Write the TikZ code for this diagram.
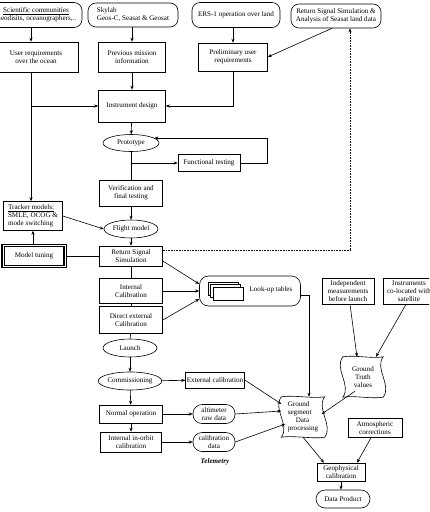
\documentclass[tikz,border=0pt]{standalone}
\usepackage{fontspec}
\setmainfont{Liberation Serif}
\usetikzlibrary{shapes.geometric,arrows.meta,calc}
\newcommand\wavyframe[1]{\draw[line width=0.6pt] (#1.north west) .. controls +(12,-2) and +(-12,2) .. (#1.north east) .. controls +(-9,12) and +(9,-12) .. (#1.south east) .. controls +(-12,2) and +(12,-2) .. (#1.south west) .. controls +(9,-12) and +(-9,12) .. (#1.north west);}
\begin{document}
\begin{tikzpicture}[x=1pt,y=-1pt,
  every node/.style={font=\fontsize{7.1}{8}\selectfont, inner sep=1pt},
  box/.style={draw, line width=0.6pt, rectangle, align=center},
  rbox/.style={draw, line width=0.6pt, rectangle, rounded corners=8pt, align=center},
  ell/.style={draw, line width=0.6pt, ellipse, align=center, inner sep=0pt},
  thickbox/.style={draw, line width=1.4pt, double=white, double distance=0.6pt, rectangle, align=center},
  wavy/.style={rectangle, align=center},
  arr/.style={line width=0.6pt, -{Stealth[length=4pt,width=3.2pt]}},
  ln/.style={line width=0.6pt}]
\useasboundingbox (0,0) rectangle (429,512);
\clip (0,0) rectangle (429,512);
% top row
\node[rbox, minimum width=92, minimum height=25] (sci) at (36,15) {\underline{Scientific communities}\\Geodisits, oceanographers,..};
\node[rbox, minimum width=90, minimum height=24, align=left] (sky) at (133,15) {Skylab\\Geos-C, Seasat \& Geosat};
\node[rbox, minimum width=88, minimum height=25] (ers) at (236,15) {ERS-1 operation over land};
\node[rbox, minimum width=90, minimum height=24] (rss) at (336,16) {Return Signal Simulation \&\\Analysis of Seasat land data};
% second row
\node[box, minimum width=84, minimum height=30] (ureq) at (36,57) {User requirements\\over the ocean};
\node[box, minimum width=67, minimum height=30] (prev) at (132,57) {Previous mission\\information};
\node[box, minimum width=69, minimum height=28] (prel) at (233,57) {Preliminary user\\requirements};
\node[box, minimum width=67, minimum height=32] (idesign) at (132,106) {Instrument design};
\node[ell, minimum width=56, minimum height=17] (proto) at (131,143) {Prototype};
\node[box, minimum width=62, minimum height=17] (func) at (209,163) {Functional testing};
\node[box, minimum width=63, minimum height=26] (verif) at (131,193) {Verification and\\final testing};
\node[box, minimum width=59, minimum height=29, align=left] (track) at (33,216) {\underline{Tracker models:}\\SMLE, OCOG \&\\mode switching};
\node[ell, minimum width=54, minimum height=18] (flight) at (131,229) {Flight model};
\node[thickbox, minimum width=62, minimum height=21] (tune) at (34,256) {Model tuning};
\node[box, minimum width=63, minimum height=20] (rsim) at (131,256) {Return Signal\\Simulation};
\node[box, minimum width=63, minimum height=25] (ical) at (131,291) {Internal\\Calibration};
\node[box, minimum width=63, minimum height=27] (dext) at (131,320) {Direct external\\Calibration};
\node[ell, minimum width=54, minimum height=18] (launch) at (130,348) {Launch};
\node[ell, minimum width=56, minimum height=18] (comm) at (130,381) {Commissioning};
\node[box, minimum width=59, minimum height=16] (extcal) at (215,380) {External calibration};
\node[box, minimum width=63, minimum height=18] (normal) at (131,414) {Normal operation};
\node[box, minimum width=61, minimum height=20] (inorbit) at (131,442) {Internal in-orbit\\calibration};
\node[rbox, rounded corners=9pt, minimum width=42, minimum height=19] (alt) at (214,414) {altimeter\\raw data};
\node[rbox, rounded corners=9pt, minimum width=42, minimum height=19] (cald) at (214,442) {calibration\\data};
\node (telem) at (215,462) {\textbf{\textit{Telemetry}}};
% look-up tables
\node[rbox, rounded corners=9pt, minimum width=101, minimum height=30] (lut) at (250,291) {};
\draw[ln, fill=white] (208,282) rectangle ++(30,13);
\draw[ln, fill=white] (210.5,284.5) rectangle ++(30,13);
\draw[ln, fill=white] (213,287) rectangle ++(30,13);
\node (luttext) at (271,290) {Look-up tables};
% right side
\node[box, minimum width=52, minimum height=26] (indep) at (348,291) {Independent\\measurements\\before launch};
\node[box, minimum width=52, minimum height=26] (instr) at (409,291) {Instruments\\co-located with\\satellite};
\node[wavy, minimum width=40, minimum height=40] (gt) at (363,377) {Ground\\Truth\\values};
\wavyframe{gt}
\node[wavy, minimum width=43, minimum height=40, align=left] (gs) at (303,417) {Ground\\segment\\\hspace{8pt}Data\\processing};
\wavyframe{gs}
\node[box, minimum width=54, minimum height=19] (atm) at (375,428) {Atmospheric\\corrections};
\node[box, minimum width=48, minimum height=18] (geo) at (341,472) {Geophysical\\calibration};
\node[rbox, rounded corners=9pt, minimum width=54, minimum height=18] (prod) at (343,499) {Data Product};
% connectors top
\draw[arr] (sci.south -| 31,0) -- (ureq.north -| 31,0);
\draw[arr] (sky.south -| prev) -- (prev.north);
\draw[arr] (ers.south -| prel) -- (prel.north);
\draw[arr] ([xshift=-4pt]rss.south) -- (prel.east);
\draw[arr] (prev) -- (idesign);
\coordinate (uj) at (31,106);
\draw[arr] (uj) -- (idesign.west);
\draw[arr] (ureq.south -| uj) -- (track.north -| uj);
\draw[arr] (prel.south) |- (idesign.east);
\draw[arr] (idesign) -- (proto);
\draw[ln] (proto) -- (verif);
\coordinate (fj) at (131,163);
\draw[arr] (fj) -- (func.west);
\draw[arr] (func.east) -| ([xshift=27pt]func.east |- proto.12) -- (proto.12);
\draw[arr] (verif) -- (flight);
\draw[arr] (track.east) -- (flight.west);
\draw[arr] (tune.north -| track) -- (track.south);
\draw[ln] (tune.east) -- (rsim.west);
\draw[arr] (flight) -- (rsim);
\draw[arr, densely dotted] ([yshift=6pt]rsim.east) -| ([xshift=14pt]rss.south);
\draw[ln] (rsim) -- (ical);
\draw[ln] (ical) -- (dext);
\draw[ln] (dext) -- (launch);
\draw[arr] (launch) -- (comm);
\draw[arr] (comm) -- (normal);
\draw[arr] (normal) -- (inorbit);
\draw[arr] ([yshift=-5pt]rsim.east) -- ([yshift=7pt]lut.west);
\draw[arr] (ical.east) -- (ical.east -| lut.west);
\draw[arr] (dext.east) -- ([yshift=-8pt]lut.west);
\draw[arr] (comm) -- (extcal);
\draw[arr] (normal) -- (alt);
\draw[arr] (inorbit) -- (cald);
\draw[arr] ([yshift=-4pt]lut.east) -| ([xshift=6pt]gs.north);
\draw[arr] (extcal.east) -- ([yshift=13pt]gs.west);
\draw[arr] (alt.east) -- ([yshift=6pt]gs.west);
\draw[arr] (cald.east) -- ([xshift=4pt,yshift=-7pt]gs.west);
\draw[arr] ([xshift=-8pt,yshift=6pt]gt.south) -- ([xshift=-3pt,yshift=3pt]gs.east);
\draw[arr] ([xshift=2pt]indep.south) -- ([xshift=-6pt]gt.north);
\draw[arr] ([xshift=-3pt]instr.south) -- ([xshift=13pt]gt.north);
\draw[arr] (gs.south) -- ([xshift=-17pt]geo.north);
\draw[arr] ([xshift=-4pt]atm.south) -- ([xshift=16pt]geo.north);
\draw[arr] (geo.south) -- (geo.south |- prod.north);
\end{tikzpicture}
\end{document}
